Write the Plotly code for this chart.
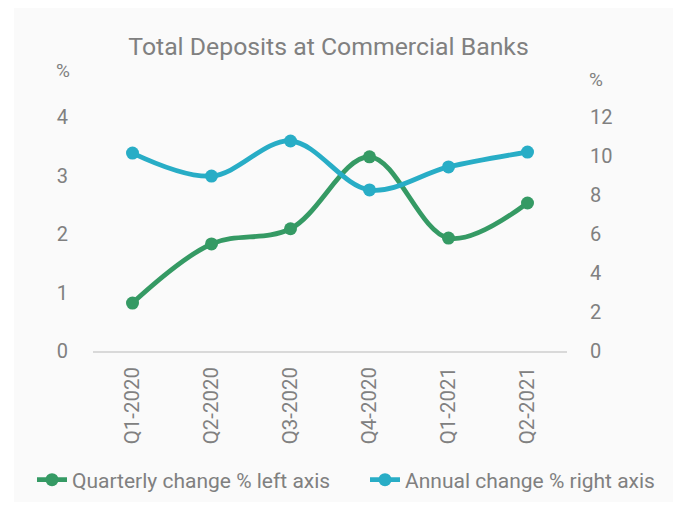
import plotly.graph_objects as go

categories = ["Q1-2020", "Q2-2020", "Q3-2020", "Q4-2020", "Q1-2021", "Q2-2021"]
quarterly = [0.82, 1.83, 2.09, 3.32, 1.93, 2.53]
annual = [10.15, 8.97, 10.77, 8.26, 9.44, 10.2]
left_ticks = [0, 1, 2, 3, 4]
right_ticks = [0, 2, 4, 6, 8, 10, 12]

GREEN = "#359a64"
BLUE = "#28adc6"
GRAY = "#808080"
FONT = "Roboto, sans-serif"

W, H = 665, 494
L, R, T, B = 85, 106, 109, 151
PW, PH = W - L - R, H - T - B

fig = go.Figure()
fig.add_trace(go.Scatter(
    x=categories, y=quarterly, name="Quarterly change % left axis",
    mode="lines+markers", line=dict(color=GREEN, width=4.8, shape="spline", smoothing=1),
    marker=dict(color=GREEN, size=13), yaxis="y", legend="legend"))
fig.add_trace(go.Scatter(
    x=categories, y=annual, name="Annual change % right axis",
    mode="lines+markers", line=dict(color=BLUE, width=4.8, shape="spline", smoothing=1),
    marker=dict(color=BLUE, size=13), yaxis="y2", legend="legend2"))

leg_common = dict(orientation="h", xanchor="left", y=(343 - 472) / PH, yanchor="middle",
                  font=dict(size=21, color=GRAY, family=FONT), itemwidth=30,
                  bgcolor="rgba(0,0,0,0)")

fig.update_layout(
    width=W, height=H,
    paper_bgcolor="#fafafa", plot_bgcolor="#fafafa",
    margin=dict(l=L, r=R, t=T, b=B, autoexpand=False),
    font=dict(family=FONT, color=GRAY, size=20),
    title=dict(text="Total Deposits at Commercial Banks", x=320.5 / W, xanchor="center",
               y=1 - 38 / H, yanchor="middle", font=dict(size=24.8, color=GRAY, family=FONT)),
    showlegend=True,
    legend=dict(x=(24 - L) / PW, **leg_common),
    legend2=dict(x=(357 - L) / PW, **leg_common),
    xaxis=dict(type="category", range=[-0.5, len(categories) - 0.5], showgrid=False,
               showline=True, linecolor="#d9d9d9",
               linewidth=1.5, ticks="", tickangle=-90, tickfont=dict(size=20.5, color=GRAY),
               zeroline=False, ticklabelstandoff=6),
    yaxis=dict(range=[0, 4], tickvals=left_ticks, showgrid=False, zeroline=False,
               showline=False, ticks="", tickfont=dict(size=20, color=GRAY), ticklabelstandoff=24),
    yaxis2=dict(range=[0, 12], tickvals=right_ticks, overlaying="y", side="right",
                showgrid=False, zeroline=False, showline=False, ticks="",
                tickfont=dict(size=20, color=GRAY), ticklabelstandoff=22),
    annotations=[
        dict(text="%", xref="paper", yref="paper", x=(55 - L) / PW, y=(343 - 62) / PH,
             showarrow=False, font=dict(size=19, color=GRAY), xanchor="center", yanchor="middle"),
        dict(text="%", xref="paper", yref="paper", x=(588 - L) / PW, y=(343 - 72) / PH,
             showarrow=False, font=dict(size=19, color=GRAY), xanchor="center", yanchor="middle"),
    ],
    shapes=[
        dict(type="rect", xref="paper", yref="paper", x0=(0 - L) / PW, x1=(6 - L) / PW,
             y0=(343 - H) / PH, y1=343 / PH, fillcolor="white", line=dict(width=0),
             layer="below"),
    ],
)

fig.write_html("out.html")
